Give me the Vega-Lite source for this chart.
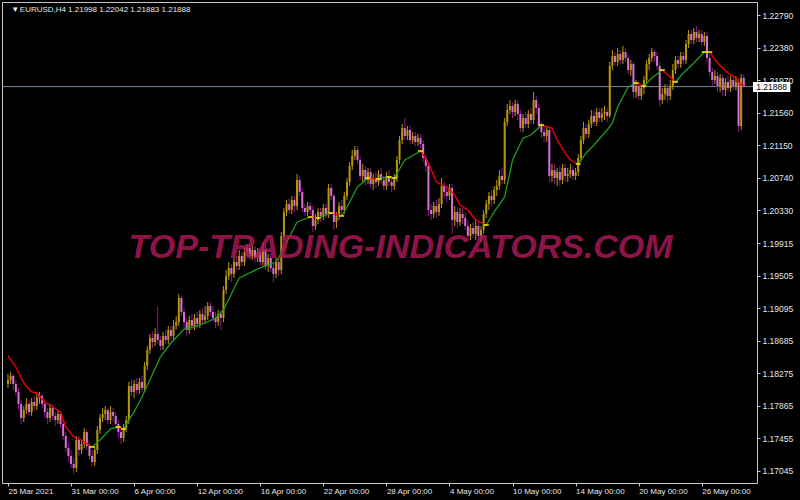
{
"$schema":"https://vega.github.io/schema/vega-lite/v6.json",
"width":800,"height":500,
"autosize":{"type":"fit","contains":"padding"},
"padding":{"left":1,"top":2,"right":0,"bottom":0},
"background":"#000000",
"config":{"view":{"stroke":"#C8C8C8","strokeWidth":1},"axis":{"labelOverlap":false}},
"datasets":{
"bars":[
{"i":0,"o":1.18141,"h":1.18267,"l":1.1809,"c":1.18191},
{"i":1,"o":1.18191,"h":1.18292,"l":1.18141,"c":1.18242},
{"i":2,"o":1.18242,"h":1.18267,"l":1.18065,"c":1.18141},
{"i":3,"o":1.18141,"h":1.18191,"l":1.1799,"c":1.1804},
{"i":4,"o":1.1804,"h":1.1809,"l":1.17813,"c":1.17889},
{"i":5,"o":1.17889,"h":1.17939,"l":1.17637,"c":1.17712},
{"i":6,"o":1.17712,"h":1.17864,"l":1.17662,"c":1.17813},
{"i":7,"o":1.17813,"h":1.17964,"l":1.17763,"c":1.17889},
{"i":8,"o":1.17889,"h":1.17939,"l":1.17738,"c":1.17788},
{"i":9,"o":1.17788,"h":1.17964,"l":1.17738,"c":1.17914},
{"i":10,"o":1.17914,"h":1.1799,"l":1.17813,"c":1.17864},
{"i":11,"o":1.17864,"h":1.1804,"l":1.17813,"c":1.17964},
{"i":12,"o":1.17964,"h":1.1804,"l":1.17889,"c":1.1799},
{"i":13,"o":1.1799,"h":1.18015,"l":1.17838,"c":1.17889},
{"i":14,"o":1.17889,"h":1.17939,"l":1.17712,"c":1.17788},
{"i":15,"o":1.17788,"h":1.17838,"l":1.17637,"c":1.17712},
{"i":16,"o":1.17712,"h":1.17889,"l":1.17662,"c":1.17838},
{"i":17,"o":1.17838,"h":1.17889,"l":1.17687,"c":1.17738},
{"i":18,"o":1.17738,"h":1.17788,"l":1.17612,"c":1.17687},
{"i":19,"o":1.17687,"h":1.17813,"l":1.17637,"c":1.17763},
{"i":20,"o":1.17763,"h":1.17788,"l":1.17586,"c":1.17637},
{"i":21,"o":1.17637,"h":1.17687,"l":1.17435,"c":1.17486},
{"i":22,"o":1.17486,"h":1.17536,"l":1.17284,"c":1.17334},
{"i":23,"o":1.17334,"h":1.1741,"l":1.17158,"c":1.17234},
{"i":24,"o":1.17234,"h":1.17309,"l":1.17082,"c":1.17133},
{"i":25,"o":1.17133,"h":1.17208,"l":1.17007,"c":1.17082},
{"i":26,"o":1.17082,"h":1.17486,"l":1.17032,"c":1.17435},
{"i":27,"o":1.17435,"h":1.17486,"l":1.17234,"c":1.17309},
{"i":28,"o":1.17309,"h":1.17435,"l":1.17259,"c":1.17385},
{"i":29,"o":1.17385,"h":1.17586,"l":1.17334,"c":1.17536},
{"i":30,"o":1.17536,"h":1.17561,"l":1.17309,"c":1.1736},
{"i":31,"o":1.1736,"h":1.1741,"l":1.17183,"c":1.17234},
{"i":32,"o":1.17234,"h":1.17309,"l":1.17108,"c":1.17158},
{"i":33,"o":1.17158,"h":1.1736,"l":1.17108,"c":1.17309},
{"i":34,"o":1.17309,"h":1.17612,"l":1.17259,"c":1.17561},
{"i":35,"o":1.17561,"h":1.17763,"l":1.17511,"c":1.17712},
{"i":36,"o":1.17712,"h":1.17838,"l":1.17662,"c":1.17763},
{"i":37,"o":1.17763,"h":1.17864,"l":1.17687,"c":1.17813},
{"i":38,"o":1.17813,"h":1.17838,"l":1.17637,"c":1.17687},
{"i":39,"o":1.17687,"h":1.17864,"l":1.17637,"c":1.17788},
{"i":40,"o":1.17788,"h":1.17838,"l":1.17662,"c":1.17738},
{"i":41,"o":1.17738,"h":1.17788,"l":1.17586,"c":1.17637},
{"i":42,"o":1.17637,"h":1.17687,"l":1.1746,"c":1.17536},
{"i":43,"o":1.17536,"h":1.17586,"l":1.17385,"c":1.1746},
{"i":44,"o":1.1746,"h":1.17637,"l":1.1741,"c":1.17586},
{"i":45,"o":1.17586,"h":1.17738,"l":1.17536,"c":1.17687},
{"i":46,"o":1.17687,"h":1.18166,"l":1.17637,"c":1.18116},
{"i":47,"o":1.18116,"h":1.18191,"l":1.1799,"c":1.1804},
{"i":48,"o":1.1804,"h":1.18191,"l":1.17964,"c":1.18141},
{"i":49,"o":1.18141,"h":1.18216,"l":1.18015,"c":1.18065},
{"i":50,"o":1.18065,"h":1.18216,"l":1.18015,"c":1.18166},
{"i":51,"o":1.18166,"h":1.18242,"l":1.1804,"c":1.1809},
{"i":52,"o":1.1809,"h":1.18418,"l":1.1804,"c":1.18368},
{"i":53,"o":1.18368,"h":1.1862,"l":1.18317,"c":1.18569},
{"i":54,"o":1.18569,"h":1.18771,"l":1.18519,"c":1.1872},
{"i":55,"o":1.1872,"h":1.18796,"l":1.18594,"c":1.1867},
{"i":56,"o":1.1867,"h":1.18846,"l":1.1862,"c":1.18771},
{"i":57,"o":1.18771,"h":1.19124,"l":1.18645,"c":1.18695},
{"i":58,"o":1.18695,"h":1.18746,"l":1.18569,"c":1.1862},
{"i":59,"o":1.1862,"h":1.18796,"l":1.18569,"c":1.18746},
{"i":60,"o":1.18746,"h":1.18821,"l":1.18645,"c":1.18695},
{"i":61,"o":1.18695,"h":1.18872,"l":1.18645,"c":1.18821},
{"i":62,"o":1.18821,"h":1.18872,"l":1.18695,"c":1.18746},
{"i":63,"o":1.18746,"h":1.18947,"l":1.18695,"c":1.18872},
{"i":64,"o":1.18872,"h":1.18998,"l":1.18821,"c":1.18922},
{"i":65,"o":1.18922,"h":1.19275,"l":1.18872,"c":1.19224},
{"i":66,"o":1.19224,"h":1.1925,"l":1.18998,"c":1.19048},
{"i":67,"o":1.19048,"h":1.19098,"l":1.18846,"c":1.18922},
{"i":68,"o":1.18922,"h":1.18972,"l":1.18746,"c":1.18821},
{"i":69,"o":1.18821,"h":1.18998,"l":1.18771,"c":1.18947},
{"i":70,"o":1.18947,"h":1.19023,"l":1.18821,"c":1.18872},
{"i":71,"o":1.18872,"h":1.19023,"l":1.18821,"c":1.18972},
{"i":72,"o":1.18972,"h":1.19048,"l":1.18846,"c":1.18897},
{"i":73,"o":1.18897,"h":1.19073,"l":1.18846,"c":1.19023},
{"i":74,"o":1.19023,"h":1.19098,"l":1.18897,"c":1.18947},
{"i":75,"o":1.18947,"h":1.19124,"l":1.18897,"c":1.18998},
{"i":76,"o":1.18998,"h":1.19174,"l":1.18947,"c":1.19124},
{"i":77,"o":1.19124,"h":1.19174,"l":1.18998,"c":1.19048},
{"i":78,"o":1.19048,"h":1.19124,"l":1.18922,"c":1.18972},
{"i":79,"o":1.18972,"h":1.19048,"l":1.18846,"c":1.18922},
{"i":80,"o":1.18922,"h":1.19073,"l":1.18872,"c":1.19023},
{"i":81,"o":1.19023,"h":1.19073,"l":1.18821,"c":1.18972},
{"i":82,"o":1.18972,"h":1.19376,"l":1.18922,"c":1.19325},
{"i":83,"o":1.19325,"h":1.19577,"l":1.19275,"c":1.19502},
{"i":84,"o":1.19502,"h":1.19678,"l":1.19451,"c":1.19602},
{"i":85,"o":1.19602,"h":1.19653,"l":1.19426,"c":1.19527},
{"i":86,"o":1.19527,"h":1.19728,"l":1.19476,"c":1.19678},
{"i":87,"o":1.19678,"h":1.19754,"l":1.19577,"c":1.19628},
{"i":88,"o":1.19628,"h":1.19829,"l":1.19577,"c":1.19754},
{"i":89,"o":1.19754,"h":1.19804,"l":1.19628,"c":1.19678},
{"i":90,"o":1.19678,"h":1.19854,"l":1.19628,"c":1.19804},
{"i":91,"o":1.19804,"h":1.19905,"l":1.19754,"c":1.19854},
{"i":92,"o":1.19854,"h":1.19905,"l":1.19703,"c":1.19754},
{"i":93,"o":1.19754,"h":1.1988,"l":1.19703,"c":1.19829},
{"i":94,"o":1.19829,"h":1.1988,"l":1.19678,"c":1.19728},
{"i":95,"o":1.19728,"h":1.19854,"l":1.19678,"c":1.19804},
{"i":96,"o":1.19804,"h":1.19854,"l":1.19628,"c":1.19678},
{"i":97,"o":1.19678,"h":1.1993,"l":1.19628,"c":1.19829},
{"i":98,"o":1.19829,"h":1.1988,"l":1.19577,"c":1.19628},
{"i":99,"o":1.19628,"h":1.19779,"l":1.19552,"c":1.19728},
{"i":100,"o":1.19728,"h":1.19779,"l":1.19552,"c":1.19602},
{"i":101,"o":1.19602,"h":1.19653,"l":1.19426,"c":1.19527},
{"i":102,"o":1.19527,"h":1.19728,"l":1.19476,"c":1.19678},
{"i":103,"o":1.19678,"h":1.19728,"l":1.19502,"c":1.19577},
{"i":104,"o":1.19577,"h":1.20056,"l":1.19527,"c":1.20006},
{"i":105,"o":1.20006,"h":1.20358,"l":1.19955,"c":1.20308},
{"i":106,"o":1.20308,"h":1.20459,"l":1.20258,"c":1.20409},
{"i":107,"o":1.20409,"h":1.20484,"l":1.20283,"c":1.20333},
{"i":108,"o":1.20333,"h":1.2051,"l":1.20283,"c":1.20459},
{"i":109,"o":1.20459,"h":1.2051,"l":1.20308,"c":1.20384},
{"i":110,"o":1.20384,"h":1.20787,"l":1.20333,"c":1.20711},
{"i":111,"o":1.20711,"h":1.20762,"l":1.2051,"c":1.2056},
{"i":112,"o":1.2056,"h":1.2061,"l":1.20308,"c":1.20358},
{"i":113,"o":1.20358,"h":1.20409,"l":1.20258,"c":1.20308},
{"i":114,"o":1.20308,"h":1.20434,"l":1.20258,"c":1.20384},
{"i":115,"o":1.20384,"h":1.20434,"l":1.20283,"c":1.20333},
{"i":116,"o":1.20333,"h":1.20384,"l":1.20056,"c":1.20132},
{"i":117,"o":1.20132,"h":1.20283,"l":1.20081,"c":1.20207},
{"i":118,"o":1.20207,"h":1.20358,"l":1.20157,"c":1.20308},
{"i":119,"o":1.20308,"h":1.20358,"l":1.20182,"c":1.20258},
{"i":120,"o":1.20258,"h":1.20409,"l":1.20207,"c":1.20358},
{"i":121,"o":1.20358,"h":1.20409,"l":1.20232,"c":1.20283},
{"i":122,"o":1.20283,"h":1.20661,"l":1.20232,"c":1.2061},
{"i":123,"o":1.2061,"h":1.20661,"l":1.20459,"c":1.2051},
{"i":124,"o":1.2051,"h":1.20535,"l":1.20081,"c":1.20182},
{"i":125,"o":1.20182,"h":1.20308,"l":1.20106,"c":1.20258},
{"i":126,"o":1.20258,"h":1.20434,"l":1.20207,"c":1.20384},
{"i":127,"o":1.20384,"h":1.20459,"l":1.20258,"c":1.20333},
{"i":128,"o":1.20333,"h":1.2056,"l":1.20283,"c":1.2051},
{"i":129,"o":1.2051,"h":1.20736,"l":1.20459,"c":1.20686},
{"i":130,"o":1.20686,"h":1.20938,"l":1.20636,"c":1.20888},
{"i":131,"o":1.20888,"h":1.21089,"l":1.20837,"c":1.21014},
{"i":132,"o":1.21014,"h":1.2114,"l":1.20963,"c":1.21089},
{"i":133,"o":1.21089,"h":1.2114,"l":1.20913,"c":1.20963},
{"i":134,"o":1.20963,"h":1.21014,"l":1.20711,"c":1.20762},
{"i":135,"o":1.20762,"h":1.20913,"l":1.20686,"c":1.20837},
{"i":136,"o":1.20837,"h":1.20888,"l":1.20636,"c":1.20711},
{"i":137,"o":1.20711,"h":1.20862,"l":1.20661,"c":1.20812},
{"i":138,"o":1.20812,"h":1.20862,"l":1.2061,"c":1.20661},
{"i":139,"o":1.20661,"h":1.20787,"l":1.20585,"c":1.20736},
{"i":140,"o":1.20736,"h":1.20812,"l":1.2061,"c":1.20686},
{"i":141,"o":1.20686,"h":1.20837,"l":1.20636,"c":1.20787},
{"i":142,"o":1.20787,"h":1.20862,"l":1.20661,"c":1.20711},
{"i":143,"o":1.20711,"h":1.20762,"l":1.20585,"c":1.20636},
{"i":144,"o":1.20636,"h":1.20812,"l":1.20585,"c":1.20762},
{"i":145,"o":1.20762,"h":1.20837,"l":1.20636,"c":1.20686},
{"i":146,"o":1.20686,"h":1.20762,"l":1.2056,"c":1.20636},
{"i":147,"o":1.20636,"h":1.20787,"l":1.20585,"c":1.20736},
{"i":148,"o":1.20736,"h":1.21014,"l":1.20686,"c":1.20963},
{"i":149,"o":1.20963,"h":1.21266,"l":1.20913,"c":1.21215},
{"i":150,"o":1.21215,"h":1.21417,"l":1.21165,"c":1.21366},
{"i":151,"o":1.21366,"h":1.21492,"l":1.21215,"c":1.21266},
{"i":152,"o":1.21266,"h":1.21392,"l":1.21215,"c":1.21341},
{"i":153,"o":1.21341,"h":1.21392,"l":1.21165,"c":1.21215},
{"i":154,"o":1.21215,"h":1.21316,"l":1.21165,"c":1.21266},
{"i":155,"o":1.21266,"h":1.21316,"l":1.2114,"c":1.2119},
{"i":156,"o":1.2119,"h":1.21291,"l":1.2114,"c":1.2124},
{"i":157,"o":1.2124,"h":1.21291,"l":1.21114,"c":1.21165},
{"i":158,"o":1.21165,"h":1.21215,"l":1.20938,"c":1.20988},
{"i":159,"o":1.20988,"h":1.21039,"l":1.20812,"c":1.20888},
{"i":160,"o":1.20888,"h":1.20913,"l":1.20258,"c":1.20333},
{"i":161,"o":1.20333,"h":1.20409,"l":1.20207,"c":1.20283},
{"i":162,"o":1.20283,"h":1.20434,"l":1.20232,"c":1.20384},
{"i":163,"o":1.20384,"h":1.20459,"l":1.20232,"c":1.20308},
{"i":164,"o":1.20308,"h":1.20484,"l":1.20258,"c":1.20409},
{"i":165,"o":1.20409,"h":1.20736,"l":1.20358,"c":1.20636},
{"i":166,"o":1.20636,"h":1.20686,"l":1.20484,"c":1.2056},
{"i":167,"o":1.2056,"h":1.20636,"l":1.20434,"c":1.2051},
{"i":168,"o":1.2051,"h":1.20661,"l":1.20459,"c":1.2061},
{"i":169,"o":1.2061,"h":1.20661,"l":1.20031,"c":1.20207},
{"i":170,"o":1.20207,"h":1.20384,"l":1.20132,"c":1.20308},
{"i":171,"o":1.20308,"h":1.20358,"l":1.20106,"c":1.20182},
{"i":172,"o":1.20182,"h":1.20358,"l":1.20132,"c":1.20283},
{"i":173,"o":1.20283,"h":1.20358,"l":1.20157,"c":1.20232},
{"i":174,"o":1.20232,"h":1.20308,"l":1.20081,"c":1.20132},
{"i":175,"o":1.20132,"h":1.20207,"l":1.19955,"c":1.20006},
{"i":176,"o":1.20006,"h":1.20157,"l":1.19955,"c":1.20106},
{"i":177,"o":1.20106,"h":1.20182,"l":1.1998,"c":1.20031},
{"i":178,"o":1.20031,"h":1.20207,"l":1.19955,"c":1.20132},
{"i":179,"o":1.20132,"h":1.20182,"l":1.19955,"c":1.20006},
{"i":180,"o":1.20006,"h":1.20132,"l":1.1993,"c":1.20081},
{"i":181,"o":1.20081,"h":1.20333,"l":1.20031,"c":1.20283},
{"i":182,"o":1.20283,"h":1.20459,"l":1.20232,"c":1.20409},
{"i":183,"o":1.20409,"h":1.2056,"l":1.20333,"c":1.2051},
{"i":184,"o":1.2051,"h":1.20585,"l":1.20384,"c":1.20459},
{"i":185,"o":1.20459,"h":1.20636,"l":1.20409,"c":1.20585},
{"i":186,"o":1.20585,"h":1.20711,"l":1.2051,"c":1.20636},
{"i":187,"o":1.20636,"h":1.20837,"l":1.20585,"c":1.20762},
{"i":188,"o":1.20762,"h":1.20862,"l":1.20661,"c":1.20711},
{"i":189,"o":1.20711,"h":1.21492,"l":1.20661,"c":1.21442},
{"i":190,"o":1.21442,"h":1.21669,"l":1.21392,"c":1.21593},
{"i":191,"o":1.21593,"h":1.21719,"l":1.21543,"c":1.21644},
{"i":192,"o":1.21644,"h":1.21694,"l":1.21492,"c":1.21568},
{"i":193,"o":1.21568,"h":1.21719,"l":1.21518,"c":1.21669},
{"i":194,"o":1.21669,"h":1.21719,"l":1.21467,"c":1.21543},
{"i":195,"o":1.21543,"h":1.21593,"l":1.21316,"c":1.21366},
{"i":196,"o":1.21366,"h":1.21543,"l":1.21316,"c":1.21492},
{"i":197,"o":1.21492,"h":1.21568,"l":1.21366,"c":1.21417},
{"i":198,"o":1.21417,"h":1.21593,"l":1.21366,"c":1.21543},
{"i":199,"o":1.21543,"h":1.21618,"l":1.21417,"c":1.21467},
{"i":200,"o":1.21467,"h":1.2182,"l":1.21417,"c":1.21719},
{"i":201,"o":1.21719,"h":1.2177,"l":1.21543,"c":1.21618},
{"i":202,"o":1.21618,"h":1.21669,"l":1.21341,"c":1.21392},
{"i":203,"o":1.21392,"h":1.21442,"l":1.2124,"c":1.21316},
{"i":204,"o":1.21316,"h":1.21392,"l":1.2119,"c":1.21266},
{"i":205,"o":1.21266,"h":1.21392,"l":1.2119,"c":1.21341},
{"i":206,"o":1.21341,"h":1.21392,"l":1.20686,"c":1.20762},
{"i":207,"o":1.20762,"h":1.20913,"l":1.20686,"c":1.20837},
{"i":208,"o":1.20837,"h":1.20913,"l":1.20661,"c":1.20736},
{"i":209,"o":1.20736,"h":1.20862,"l":1.20636,"c":1.20812},
{"i":210,"o":1.20812,"h":1.20888,"l":1.20636,"c":1.20711},
{"i":211,"o":1.20711,"h":1.20913,"l":1.20661,"c":1.20862},
{"i":212,"o":1.20862,"h":1.20913,"l":1.20686,"c":1.20762},
{"i":213,"o":1.20762,"h":1.20862,"l":1.20686,"c":1.20787},
{"i":214,"o":1.20787,"h":1.20913,"l":1.20736,"c":1.20837},
{"i":215,"o":1.20837,"h":1.20888,"l":1.20711,"c":1.20762},
{"i":216,"o":1.20762,"h":1.20862,"l":1.20711,"c":1.20812},
{"i":217,"o":1.20812,"h":1.21039,"l":1.20762,"c":1.20988},
{"i":218,"o":1.20988,"h":1.21266,"l":1.20938,"c":1.21215},
{"i":219,"o":1.21215,"h":1.21442,"l":1.21165,"c":1.21366},
{"i":220,"o":1.21366,"h":1.21417,"l":1.2124,"c":1.21291},
{"i":221,"o":1.21291,"h":1.21467,"l":1.2124,"c":1.21417},
{"i":222,"o":1.21417,"h":1.21593,"l":1.21366,"c":1.21518},
{"i":223,"o":1.21518,"h":1.21593,"l":1.21392,"c":1.21442},
{"i":224,"o":1.21442,"h":1.21618,"l":1.21392,"c":1.21568},
{"i":225,"o":1.21568,"h":1.21618,"l":1.21442,"c":1.21492},
{"i":226,"o":1.21492,"h":1.21618,"l":1.21442,"c":1.21543},
{"i":227,"o":1.21543,"h":1.21644,"l":1.21467,"c":1.21568},
{"i":228,"o":1.21568,"h":1.21618,"l":1.21442,"c":1.21518},
{"i":229,"o":1.21518,"h":1.22198,"l":1.21492,"c":1.22148},
{"i":230,"o":1.22148,"h":1.22349,"l":1.22097,"c":1.22274},
{"i":231,"o":1.22274,"h":1.22324,"l":1.22148,"c":1.22198},
{"i":232,"o":1.22198,"h":1.22374,"l":1.22148,"c":1.22299},
{"i":233,"o":1.22299,"h":1.22349,"l":1.22173,"c":1.22223},
{"i":234,"o":1.22223,"h":1.224,"l":1.22173,"c":1.22324},
{"i":235,"o":1.22324,"h":1.22374,"l":1.22198,"c":1.22248},
{"i":236,"o":1.22248,"h":1.22299,"l":1.22047,"c":1.22097},
{"i":237,"o":1.22097,"h":1.22223,"l":1.22022,"c":1.22173},
{"i":238,"o":1.22173,"h":1.22198,"l":1.21744,"c":1.2182},
{"i":239,"o":1.2182,"h":1.21971,"l":1.21744,"c":1.21896},
{"i":240,"o":1.21896,"h":1.21946,"l":1.21719,"c":1.2177},
{"i":241,"o":1.2177,"h":1.21921,"l":1.21719,"c":1.2187},
{"i":242,"o":1.2187,"h":1.22022,"l":1.21795,"c":1.21971},
{"i":243,"o":1.21971,"h":1.22223,"l":1.21921,"c":1.22173},
{"i":244,"o":1.22173,"h":1.22299,"l":1.22097,"c":1.22248},
{"i":245,"o":1.22248,"h":1.22374,"l":1.22198,"c":1.22324},
{"i":246,"o":1.22324,"h":1.22349,"l":1.22198,"c":1.22274},
{"i":247,"o":1.22274,"h":1.22324,"l":1.22097,"c":1.22148},
{"i":248,"o":1.22148,"h":1.22198,"l":1.21644,"c":1.21719},
{"i":249,"o":1.21719,"h":1.2187,"l":1.21669,"c":1.21795},
{"i":250,"o":1.21795,"h":1.21921,"l":1.21719,"c":1.2187},
{"i":251,"o":1.2187,"h":1.21921,"l":1.21694,"c":1.2177},
{"i":252,"o":1.2177,"h":1.21971,"l":1.21719,"c":1.21896},
{"i":253,"o":1.21896,"h":1.22173,"l":1.21845,"c":1.22097},
{"i":254,"o":1.22097,"h":1.22274,"l":1.22047,"c":1.22223},
{"i":255,"o":1.22223,"h":1.22274,"l":1.22122,"c":1.22173},
{"i":256,"o":1.22173,"h":1.22324,"l":1.22122,"c":1.22274},
{"i":257,"o":1.22274,"h":1.22324,"l":1.22173,"c":1.22223},
{"i":258,"o":1.22223,"h":1.22475,"l":1.22173,"c":1.22425},
{"i":259,"o":1.22425,"h":1.22601,"l":1.22374,"c":1.22551},
{"i":260,"o":1.22551,"h":1.22601,"l":1.22425,"c":1.22475},
{"i":261,"o":1.22475,"h":1.22626,"l":1.22425,"c":1.22576},
{"i":262,"o":1.22576,"h":1.22652,"l":1.2245,"c":1.225},
{"i":263,"o":1.225,"h":1.22601,"l":1.2245,"c":1.22551},
{"i":264,"o":1.22551,"h":1.22601,"l":1.224,"c":1.2245},
{"i":265,"o":1.2245,"h":1.22576,"l":1.224,"c":1.22526},
{"i":266,"o":1.22526,"h":1.22576,"l":1.22198,"c":1.22248},
{"i":267,"o":1.22248,"h":1.22299,"l":1.22022,"c":1.22072},
{"i":268,"o":1.22072,"h":1.22122,"l":1.21896,"c":1.21971},
{"i":269,"o":1.21971,"h":1.22097,"l":1.21921,"c":1.22022},
{"i":270,"o":1.22022,"h":1.22072,"l":1.2182,"c":1.21896},
{"i":271,"o":1.21896,"h":1.22047,"l":1.2182,"c":1.21996},
{"i":272,"o":1.21996,"h":1.22047,"l":1.2177,"c":1.21845},
{"i":273,"o":1.21845,"h":1.21996,"l":1.2177,"c":1.21946},
{"i":274,"o":1.21946,"h":1.22022,"l":1.2182,"c":1.2187},
{"i":275,"o":1.2187,"h":1.22022,"l":1.2182,"c":1.21971},
{"i":276,"o":1.21971,"h":1.22022,"l":1.21845,"c":1.21896},
{"i":277,"o":1.21896,"h":1.22022,"l":1.21845,"c":1.21946},
{"i":278,"o":1.21946,"h":1.21996,"l":1.21316,"c":1.21392},
{"i":279,"o":1.21392,"h":1.22047,"l":1.21341,"c":1.21996},
{"i":280,"o":1.21998,"h":1.22042,"l":1.21883,"c":1.21888}
],
"ma":[
{"i":0,"m":1.18494},{"i":3,"m":1.18355},{"i":6,"m":1.18153},{"i":9,"m":1.1804},{"i":11,"m":1.18027},
{"i":14,"m":1.17914},{"i":17,"m":1.17851},{"i":20,"m":1.17788},{"i":22,"m":1.17599},{"i":25,"m":1.17473},
{"i":28,"m":1.17435},{"i":32,"m":1.17347},{"i":35,"m":1.17435},{"i":39,"m":1.17574},{"i":42,"m":1.17599},
{"i":44,"m":1.17574},{"i":46,"m":1.17687},{"i":48,"m":1.17788},{"i":51,"m":1.17977},{"i":58,"m":1.18481},
{"i":62,"m":1.18657},{"i":67,"m":1.18834},{"i":71,"m":1.18859},{"i":75,"m":1.18909},{"i":79,"m":1.18972},
{"i":82,"m":1.19073},{"i":88,"m":1.19476},{"i":95,"m":1.1959},{"i":102,"m":1.19678},{"i":104,"m":1.19791},
{"i":110,"m":1.20182},{"i":115,"m":1.20245},{"i":118,"m":1.20232},{"i":123,"m":1.20295},{"i":127,"m":1.20258},
{"i":129,"m":1.20371},{"i":133,"m":1.20623},{"i":137,"m":1.20736},{"i":141,"m":1.20724},{"i":145,"m":1.20749},
{"i":147,"m":1.20736},{"i":151,"m":1.20963},{"i":157,"m":1.21077},{"i":160,"m":1.20925},{"i":163,"m":1.20686},
{"i":167,"m":1.20623},{"i":170,"m":1.20522},{"i":172,"m":1.20396},{"i":175,"m":1.20333},{"i":178,"m":1.20207},
{"i":182,"m":1.20144},{"i":185,"m":1.20308},{"i":189,"m":1.20497},{"i":192,"m":1.20963},{"i":196,"m":1.2124},
{"i":199,"m":1.21278},{"i":203,"m":1.21404},{"i":207,"m":1.21366},{"i":209,"m":1.21215},{"i":212,"m":1.21051},
{"i":214,"m":1.20963},{"i":217,"m":1.20913},{"i":220,"m":1.21051},{"i":223,"m":1.21152},{"i":228,"m":1.21341},
{"i":230,"m":1.21429},{"i":232,"m":1.21631},{"i":234,"m":1.21757},{"i":236,"m":1.21883},{"i":239,"m":1.21933},
{"i":242,"m":1.21896},{"i":245,"m":1.21996},{"i":249,"m":1.22097},{"i":252,"m":1.22009},{"i":254,"m":1.21946},
{"i":257,"m":1.22059},{"i":261,"m":1.22185},{"i":265,"m":1.22324},{"i":267,"m":1.22324},{"i":270,"m":1.22185},
{"i":274,"m":1.22059},{"i":277,"m":1.21996},{"i":279,"m":1.21908},{"i":280,"m":1.21903}
]
},
"layer":[
{
"data":{"values":[{"p":1.21888}]},
"mark":{"type":"rule","color":"#778899","strokeWidth":1},
"encoding":{"y":{"field":"p","type":"quantitative","title":null,
"scale":{"domain":[1.16893,1.22954],"nice":false,"zero":false},
"axis":{"orient":"right","title":null,"values":[1.2279,1.2238,1.2197,1.2156,1.2115,1.2074,1.2033,1.19915,1.19505,1.19095,1.18685,1.18275,1.17865,1.17455,1.17045],
"tickCount":30,"format":".5f","grid":false,"domain":false,"tickSize":3,"tickColor":"#C8C8C8","labelColor":"#E6E6E6",
"labelFont":"Liberation Sans","labelFontSize":8.5,"labelPadding":2,"labelOverlap":false,"labelBaseline":"middle",
"minExtent":43,"maxExtent":43}}}
},
{
"data":{"name":"bars"},
"mark":{"type":"rule","strokeWidth":1},
"encoding":{
"x":{"field":"i","type":"quantitative","title":null,
"scale":{"domain":[-0.375,283.125],"nice":false,"zero":false},
"axis":{"orient":"bottom","title":null,"values":[0,24,48,72,96,120,144,168,192,216,240,264],"tickCount":30,
"labelExpr":"['25 Mar 2021','31 Mar 00:00','6 Apr 00:00','12 Apr 00:00','16 Apr 00:00','22 Apr 00:00','28 Apr 00:00','4 May 00:00','10 May 00:00','14 May 00:00','20 May 00:00','26 May 00:00'][round(datum.value/24)]",
"labelAlign":"left","labelFlush":false,"labelOverlap":false,"grid":false,"domain":false,
"tickSize":3,"tickColor":"#C8C8C8","labelColor":"#E6E6E6","labelFont":"Liberation Sans","labelFontSize":8,
"labelPadding":1,"minExtent":17,"maxExtent":17}},
"y":{"field":"l","type":"quantitative","title":null,
"scale":{"domain":[1.16893,1.22954],"nice":false,"zero":false},
"axis":{"orient":"right","title":null,"values":[1.2279,1.2238,1.2197,1.2156,1.2115,1.2074,1.2033,1.19915,1.19505,1.19095,1.18685,1.18275,1.17865,1.17455,1.17045],
"tickCount":30,"format":".5f","grid":false,"domain":false,"tickSize":3,"tickColor":"#C8C8C8","labelColor":"#E6E6E6",
"labelFont":"Liberation Sans","labelFontSize":8.5,"labelPadding":2,"labelOverlap":false,"labelBaseline":"middle",
"minExtent":43,"maxExtent":43}},
"y2":{"field":"h"},
"color":{"condition":{"test":"datum.c >= datum.o","value":"#B8960B"},"value":"#8B1A8B"}
}
},
{
"data":{"name":"bars"},
"mark":{"type":"bar","size":2},
"encoding":{
"x":{"field":"i","type":"quantitative","title":null},
"y":{"field":"o","type":"quantitative","title":null},
"y2":{"field":"c"},
"color":{"condition":{"test":"datum.c >= datum.o","value":"#B8960B"},"value":"#DA70D6"}
}
},
{
"data":{"name":"ma"},
"transform":[
{"window":[{"op":"lead","field":"m","as":"m2"},{"op":"lead","field":"i","as":"i2"}],"sort":[{"field":"i","order":"ascending"}]},
{"filter":"datum.i2 != null"}
],
"mark":{"type":"rule","strokeWidth":1.3},
"encoding":{
"x":{"field":"i","type":"quantitative","title":null},
"x2":{"field":"i2"},
"y":{"field":"m","type":"quantitative","title":null},
"y2":{"field":"m2"},
"color":{"condition":{"test":"datum.m2 >= datum.m","value":"#1E9E1E"},"value":"#FF0000"}
}
},
{
"data":{"name":"ma"},
"transform":[
{"window":[{"op":"lag","field":"m","as":"mp"},{"op":"lead","field":"m","as":"mn"}],"sort":[{"field":"i","order":"ascending"}]},
{"filter":"datum.mp != null && datum.mn != null && (datum.m - datum.mp) * (datum.mn - datum.m) <= 0"}
],
"mark":{"type":"tick","orient":"horizontal","size":5,"thickness":2,"color":"#FFFF00"},
"encoding":{
"x":{"field":"i","type":"quantitative","title":null},
"y":{"field":"m","type":"quantitative","title":null}
}
},
{
"data":{"values":[{"t":"TOP-TRADING-INDICATORS.COM","x":149.4,"y":1.19854}]},
"mark":{"type":"text","font":"Liberation Sans","fontSize":34,"fontWeight":"bold","fontStyle":"italic","color":"#B01A5A","opacity":0.8,"align":"center","baseline":"middle"},
"encoding":{
"x":{"field":"x","type":"quantitative","title":null},
"y":{"field":"y","type":"quantitative","title":null},
"text":{"field":"t"}
}
},
{
"data":{"values":[{"t":"▼","x":1.24,"y":1.22853},{"t":"EURUSD,H4","x":4.5,"y":1.22853},{"t":"1.21998 1.22042 1.21883 1.21888","x":22.87,"y":1.22853}]},
"mark":{"type":"text","font":"Liberation Sans","color":"#E8E8E8","align":"left","baseline":"middle","fontSize":8},
"encoding":{
"x":{"field":"x","type":"quantitative","title":null},
"y":{"field":"y","type":"quantitative","title":null},
"text":{"field":"t"}
}
},
{
"data":{"values":[{"p":1.21888}]},
"mark":{"type":"rect","color":"#FFFFFF"},
"encoding":{
"x":{"datum":283.5},"x2":{"datum":297.7},
"y":{"datum":1.21946},"y2":{"datum":1.2182}
}
},
{
"data":{"values":[{"p":1.21888,"label":"1.21888"}]},
"mark":{"type":"text","font":"Liberation Sans","fontSize":8.5,"color":"#000000","align":"center","baseline":"middle"},
"encoding":{
"x":{"datum":290.6},
"y":{"field":"p","type":"quantitative","title":null},
"text":{"field":"label"}
}
}
]
}
